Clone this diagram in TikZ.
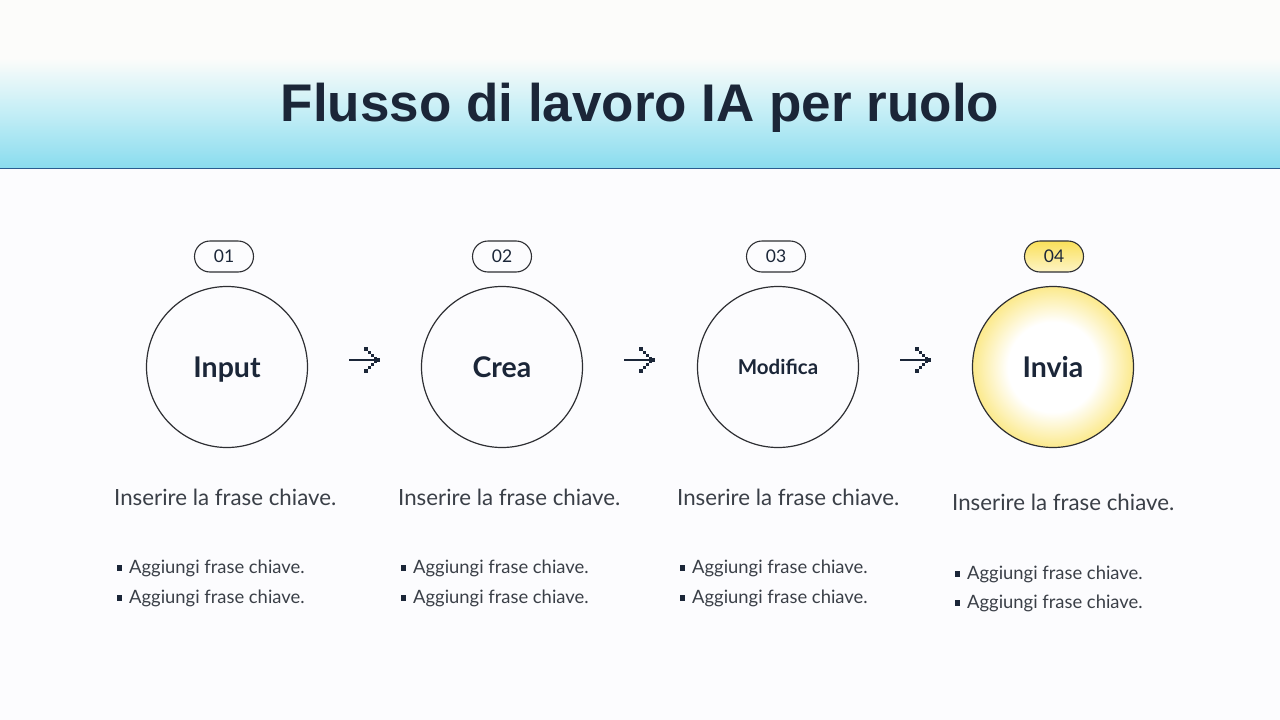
\documentclass[tikz,border=0pt]{standalone}
\usepackage{fontspec}
\setmainfont{Lato}
\newfontfamily\titlefont{Liberation Sans}
\usetikzlibrary{shapes.misc}
\definecolor{navy}{HTML}{1B2638}
\definecolor{bodygray}{HTML}{3A3F47}
\definecolor{cyanband}{HTML}{8ADCEE}
\definecolor{cyanmid}{HTML}{C4EEF6}
\definecolor{topwhite}{HTML}{FCFCFA}
\definecolor{rulecol}{HTML}{2A5C8F}
\definecolor{pageback}{HTML}{FCFCFE}
\definecolor{yellowA}{HTML}{FAE05A}
\definecolor{circline}{HTML}{2E2F33}
\pgfdeclareradialshading{glow}{\pgfpoint{0bp}{0bp}}{color(0bp)=(white); color(14bp)=(white); color(25bp)=(yellowA!70); color(33bp)=(yellowA); color(50bp)=(yellowA)}
\tikzset{
  stepcirc/.style={circle, draw=circline, line width=1.2pt, minimum size=161pt, inner sep=0pt, text depth=0pt, text=navy, font=\bfseries\fontsize{28.5}{30}\selectfont},
  pill/.style={rounded rectangle, draw=circline, line width=1.1pt, minimum width=59pt, minimum height=31pt, inner sep=0pt, text=navy, font=\fontsize{17.5}{18}\selectfont},
  leadtxt/.style={anchor=west, inner sep=0pt, text=bodygray, font=\fontsize{22.3}{24}\selectfont},
  bultxt/.style={anchor=west, inner sep=0pt, text=bodygray, font=\fontsize{18.4}{20}\selectfont},
  bulsq/.style={fill=navy, minimum size=5.5pt, inner sep=0pt},
  pixarrow/.style={line width=2.6pt, draw=navy}
}
\newcommand{\pixarrow}[2]{%
  \draw[pixarrow] (#1,#2) -- (#1+28,#2);
  \foreach \d in {0,1,2,3}{
    \fill[navy] (#1+17+\d*3.2-1.6,#2-11+\d*3.2-1.6) rectangle ++(3.2,3.2);
    \fill[navy] (#1+17+\d*3.2-1.6,#2+11-\d*3.2-1.6) rectangle ++(3.2,3.2);
  }
  \fill[navy] (#1+29.8-1.6,#2-1.6) rectangle ++(3.2,3.2);
}
\begin{document}
\begin{tikzpicture}[x=1pt,y=-1pt]
\useasboundingbox (0,0) rectangle (1280,720);
\fill[pageback] (0,0) rectangle (1280,720);
% header band
\fill[topwhite] (0,0) rectangle (1280,58);
\shade[top color=topwhite, bottom color=cyanmid] (0,58) rectangle (1280,112);
\shade[top color=cyanmid, bottom color=cyanband] (0,112) rectangle (1280,168);
\draw[rulecol, line width=1.6pt] (0,168.5) -- (1280,168.5);
\node[text=navy, font=\titlefont\bfseries\fontsize{53}{60}\selectfont, inner sep=0pt] (title) at (640,108) {Flusso di lavoro IA per ruolo};

% circles
\node[stepcirc] (c1) at (227,367) {Input};
\node[stepcirc] (c2) at (502,367) {Crea};
\node[stepcirc, font=\bfseries\fontsize{20.5}{22}\selectfont] (c3) at (778,367) {Modifica};
\shade[shading=glow] (1053,367) circle (80.5);
\node[stepcirc] (c4) at (1053,367) {Invia};

% pills
\node[pill] (p1) at (224,256.5) {01};
\node[pill] (p2) at (502,256.5) {02};
\node[pill] (p3) at (776,256.5) {03};
\node[pill, top color=yellowA, bottom color=yellowA!35] (p4) at (1054,256.5) {04};

% arrows
\pixarrow{349}{360}
\pixarrow{624}{360}
\pixarrow{900}{360}

% lead texts
\node[leadtxt] (t1) at (114,497) {Inserire la frase chiave.};
\node[leadtxt] (t2) at (398,497) {Inserire la frase chiave.};
\node[leadtxt] (t3) at (677,497) {Inserire la frase chiave.};
\node[leadtxt] (t4) at (952,502) {Inserire la frase chiave.};

% bullets
\foreach \x/\ya/\yb [count=\i] in {114/568/598, 398/568/598, 677/568/598, 952/574/603}{
  \node[bulsq] (sa\i) at (\x+5.5,\ya) {};
  \node[bultxt] (ba\i) at (\x+15,\ya) {Aggiungi frase chiave.};
  \node[bulsq] (sb\i) at (\x+5.5,\yb) {};
  \node[bultxt] (bb\i) at (\x+15,\yb) {Aggiungi frase chiave.};
}
\end{tikzpicture}
\end{document}
